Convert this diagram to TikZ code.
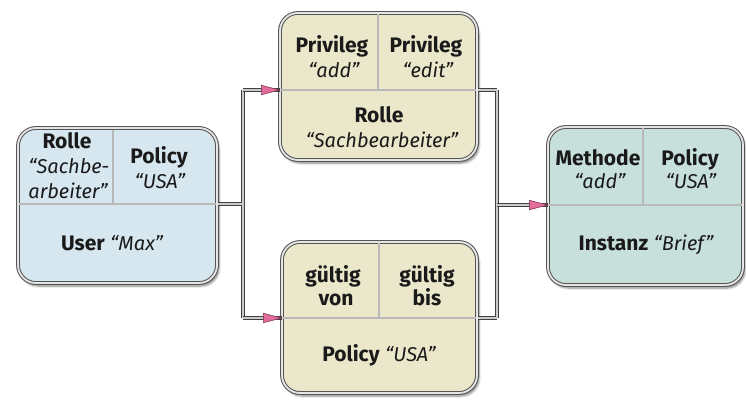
\documentclass[tikz,border=0pt]{standalone}
\usepackage{fontspec}
\setmainfont{Fira Sans}
\usetikzlibrary{arrows.meta,shadows.blur}
\definecolor{userfill}{HTML}{D6E7EF}
\definecolor{midfill}{HTML}{EAE7CB}
\definecolor{instfill}{HTML}{C8E0DC}
\definecolor{rim}{HTML}{555555}
\definecolor{tippink}{HTML}{E46C9C}
\definecolor{ink}{HTML}{1A1A1A}
\tikzset{
  panel/.style={rectangle, rounded corners=18pt, draw=rim, double=gray!20,
    double distance=1.8pt, line width=1pt, inner sep=0pt,
    blur shadow={shadow xshift=2pt, shadow yshift=-3pt, shadow blur steps=6, shadow opacity=50}},
  divider/.style={draw=gray!55, line width=1.4pt},
  txt/.style={anchor=base, inner sep=0pt, text=ink, font=\fontsize{21}{25}\selectfont},
  bl/.style={txt, font=\fontsize{21}{25}\selectfont\bfseries},
  il/.style={txt, font=\fontsize{20}{25}\selectfont\itshape},
  wirerim/.style={draw=gray!50!black, line width=3.2pt, line cap=square},
  wirecore/.style={draw=gray!40, line width=1.3pt, line cap=square},
  pinktip/.style={-{Triangle[length=20pt,width=10pt,fill=tippink,color=tippink!55!black,line width=0.6pt]}, shorten >=-1pt},
}
\begin{document}
\begin{tikzpicture}[x=1pt,y=-1pt]
\useasboundingbox (0,0) rectangle (746,405);

% panels
\node[panel, fill=userfill, minimum width=199pt, minimum height=155pt] (user) at (117.5,205.5) {};
\node[panel, fill=midfill, minimum width=197pt, minimum height=147pt] (rolle) at (378.5,86.5) {};
\node[panel, fill=midfill, minimum width=195pt, minimum height=151pt] (policy) at (379.5,317.5) {};
\node[panel, fill=instfill, minimum width=195pt, minimum height=158pt] (inst) at (645.5,206) {};

% inner field separators
\draw[divider] (19,204) -- (216,204) (113,130) -- (113,204);
\draw[divider] (281,90) -- (476,90) (378,14) -- (378,90);
\draw[divider] (283,318) -- (476,318) (379,243) -- (379,318);
\draw[divider] (549,205) -- (742,205) (643,128) -- (643,205);

% user panel
\node[bl] (uRole1) at (67,148) {Rolle};
\node[il] (uRole2) at (69,173) {“Sachbe-};
\node[il] (uRole3) at (68,198) {arbeiter”};
\node[bl] (uPol1) at (159,163) {Policy};
\node[il] (uPol2) at (160,188) {“USA”};
\node[txt] (uName) at (112,250) {\textbf{User} {\fontsize{20}{25}\selectfont\itshape “Max”}};

% role panel
\node[bl] (pAdd1) at (332,52) {Privileg};
\node[il] (pAdd2) at (334,77) {“add”};
\node[bl] (pEdit1) at (426,52) {Privileg};
\node[il] (pEdit2) at (428,77) {“edit”};
\node[bl] (rName1) at (379,122) {Rolle};
\node[il] (rName2) at (382,147) {“Sachbearbeiter”};

% policy panel
\node[bl] (gVon1) at (333,282) {gültig};
\node[bl] (gVon2) at (336,305) {von};
\node[bl] (gBis1) at (427,282) {gültig};
\node[bl] (gBis2) at (427,305) {bis};
\node[txt] (pName) at (379,361) {\textbf{Policy} {\fontsize{20}{25}\selectfont\itshape “USA”}};

% instance panel
\node[bl] (mAdd1) at (598,165) {Methode};
\node[il] (mAdd2) at (600,188) {“add”};
\node[bl] (mPol1) at (690,165) {Policy};
\node[il] (mPol2) at (691,188) {“USA”};
\node[txt] (iName) at (646,250) {\textbf{Instanz} {\fontsize{20}{25}\selectfont\itshape “Brief”}};

% ports and junctions
\coordinate (uOut) at (218,204);
\coordinate (jL) at (243,204);
\coordinate (jLt) at (243,90);
\coordinate (jLb) at (243,318);
\coordinate (rIn) at (280,90);
\coordinate (pIn) at (282,318);
\coordinate (rOut) at (478,90);
\coordinate (pOut) at (478,318);
\coordinate (jRt) at (497,90);
\coordinate (jRb) at (497,318);
\coordinate (jR) at (497,205);
\coordinate (iIn) at (548,205);

% connectors: dark rim pass first, light core pass on top
\foreach \pass in {wirerim,wirecore}{
  \draw[\pass] (uOut) -- (jL);
  \draw[\pass] (jLt) -- (jLb);
  \draw[\pass] (rOut) -- (jRt);
  \draw[\pass] (pOut) -- (jRb);
  \draw[\pass] (jRt) -- (jRb);
}
\draw[wirerim] (jLt) -- (rIn);
\draw[wirerim] (jLb) -- (pIn);
\draw[wirerim] (jR) -- (iIn);
\draw[wirecore, pinktip] (jLt) -- (rIn);
\draw[wirecore, pinktip] (jLb) -- (pIn);
\draw[wirecore, pinktip] (jR) -- (iIn);
\end{tikzpicture}
\end{document}
